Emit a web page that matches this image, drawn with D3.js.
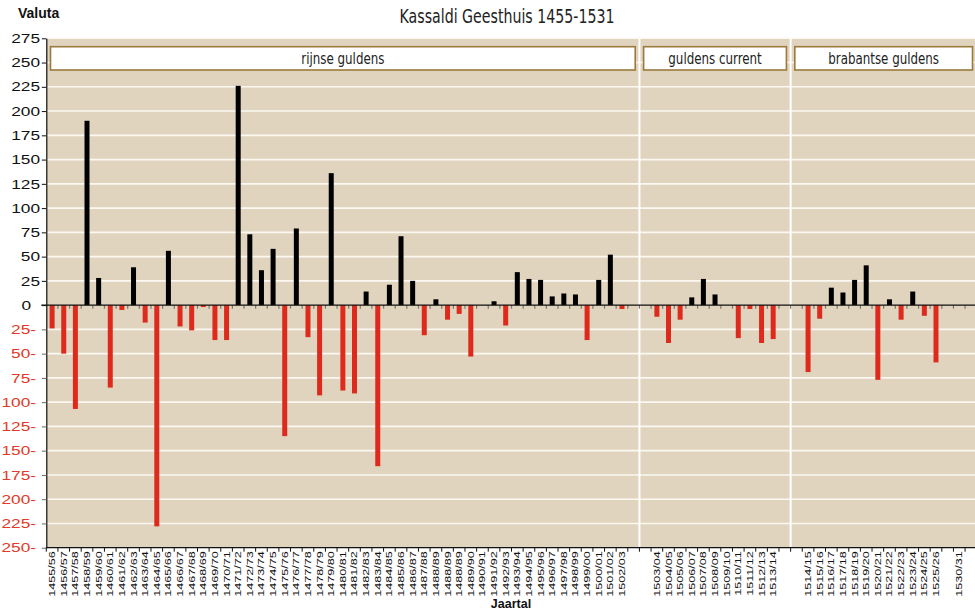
<!DOCTYPE html>
<html lang="nl">
<head>
<meta charset="UTF-8">
<title>Kassaldi Geesthuis 1455-1531</title>
<script src="https://d3js.org/d3.v7.min.js"></script>
<style>
    body { margin: 0; background: #fff; }
    svg { display: block; font-family: "Liberation Sans", Arial, sans-serif; }
    .narrow { font-family: "Liberation Sans Narrow", "Arial Narrow", "DejaVu Sans Condensed", sans-serif; }
</style>
</head>
<body>
<div id="chart"></div>
<script>
// accounting years, "" = empty slot between the currency periods
const years = [
    "1455/56","1456/57","1457/58","1458/59","1459/60","1460/61","1461/62","1462/63","1463/64","1464/65",
    "1465/66","1466/67","1467/68","1468/69","1469/70","1470/71","1471/72","1472/73","1473/74","1474/75",
    "1475/76","1476/77","1477/78","1478/79","1479/80","1480/81","1481/82","1482/83","1483/84","1484/85",
    "1485/86","1486/87","1487/88","1488/89","1488/89","1488/89","1489/90","1490/91","1491/92","1492/93",
    "1493/94","1494/95","1495/96","1496/97","1497/98","1498/99","1499/00","1500/01","1501/02","1502/03",
    "","",
    "1503/04","1504/05","1505/06","1506/07","1507/08","1508/09","1509/10","1510/11","1511/12","1512/13","1513/14",
    "","",
    "1514/15","1515/16","1516/17","1517/18","1518/19","1519/20","1520/21","1521/22","1522/23","1523/24","1524/25","1525/26",
    "","1530/31",""
];

// saldo per year (null = empty slot)
const saldo = [
    -24, -50, -107, 190, 28, -85, -5, 39, -18, -228,
    56, -22, -26, -2, -36, -36, 226, 73, 36, 58,
    -135, 79, -33, -93, 136, -88, -91, 14, -166, 21,
    71, 25, -31, 6, -15, -9, -53, 0, 4, -21,
    34, 27, 26, 9, 12, 11, -36, 26, 52, -4,
    null, null,
    -12, -39, -15, 8, 27, 11, 0, -34, -4, -39, -35,
    null, null,
    -69, -14, 18, 13, 26, 41, -77, 6, -15, 14, -11, -59,
    null, 0, null
];

// currency periods: first slot and slot after the last one
const periods = [
    { name: "rijnse guldens", from: 0, to: 51 },
    { name: "guldens current", from: 51, to: 64 },
    { name: "brabantse guldens", from: 64, to: 80 }
];

const yTicks = d3.range(-250, 276, 25);

const width = 975, height = 610;
const plotLeft = 46.3, plotRight = 976.7, plotTop = 38.3, plotBottom = 547.7;

const svg = d3.select("#chart").append("svg")
    .attr("width", width)
    .attr("height", height);

const x = d3.scaleBand()
    .domain(d3.range(years.length))
    .range([plotLeft, plotRight])
    .paddingInner(0.57)
    .paddingOuter(0.285);

const y = d3.scaleLinear()
    .domain([-250, 275])
    .range([plotBottom, plotTop]);

const step = x.step();
const edge = i => plotLeft + i * step;

// plot background
svg.append("rect")
    .attr("x", plotLeft).attr("y", plotTop)
    .attr("width", plotRight - plotLeft).attr("height", plotBottom - plotTop)
    .attr("fill", "#e0d4be");

// grid lines
svg.append("g")
    .selectAll("line")
    .data(yTicks.filter(d => d !== 0 && d !== -250))
    .join("line")
    .attr("x1", plotLeft).attr("x2", plotRight)
    .attr("y1", d => y(d)).attr("y2", d => y(d))
    .attr("stroke", "#fbf8f2")
    .attr("stroke-width", 1.6);

// period separators
svg.append("g")
    .selectAll("line")
    .data(periods.slice(1))
    .join("line")
    .attr("x1", d => edge(d.from)).attr("x2", d => edge(d.from))
    .attr("y1", plotTop).attr("y2", plotBottom)
    .attr("stroke", "#fff")
    .attr("stroke-width", 2);

// period label boxes
const box = svg.append("g").selectAll("g")
    .data(periods)
    .join("g");

box.append("rect")
    .attr("x", d => edge(d.from) + 4.2)
    .attr("width", d => Math.min(edge(d.to), 978) - edge(d.from) - 8.4)
    .attr("y", 46.7)
    .attr("height", 23.3)
    .attr("fill", "#fff")
    .attr("stroke", "#9a7a3c")
    .attr("stroke-width", 1.6);

box.append("text")
    .attr("class", "narrow")
    .attr("transform", d => `translate(${(edge(d.from) + Math.min(edge(d.to), 978)) / 2},63.5) scale(0.88,1)`)
    .attr("text-anchor", "middle")
    .attr("font-size", 15)
    .attr("fill", "#222")
    .text(d => d.name);

// bars
svg.append("g")
    .selectAll("rect")
    .data(saldo.map((v, i) => ({ i, v })).filter(d => d.v !== null && d.v !== 0))
    .join("rect")
    .attr("x", d => x(d.i))
    .attr("width", x.bandwidth())
    .attr("y", d => y(Math.max(0, d.v)))
    .attr("height", d => Math.abs(y(d.v) - y(0)))
    .attr("fill", d => d.v > 0 ? "#000" : "#de2a1c");

// zero line with small ticks
svg.append("g")
    .selectAll("line")
    .data(d3.range(1, years.length + 1))
    .join("line")
    .attr("x1", d => edge(d)).attr("x2", d => edge(d))
    .attr("y1", y(0)).attr("y2", y(0) + 3.5)
    .attr("stroke", "#7d7468")
    .attr("stroke-width", 1.2);

svg.append("line")
    .attr("x1", plotLeft - 5).attr("x2", plotRight)
    .attr("y1", y(0)).attr("y2", y(0))
    .attr("stroke", "#111")
    .attr("stroke-width", 1.2);

// y axis
const yAxis = svg.append("g")
    .attr("transform", `translate(${plotLeft},0)`)
    .call(d3.axisLeft(y).tickValues(yTicks).tickSize(4.5).tickSizeOuter(0)
        .tickFormat(d => d < 0 ? `${-d}-` : `${d}`));

yAxis.select(".domain").attr("stroke", "#111").attr("stroke-width", 1.2);
yAxis.selectAll(".tick line").attr("stroke", d => d < 0 ? "#6d6a66" : "#111");
yAxis.selectAll(".tick text")
    .attr("x", null)
    .attr("text-anchor", "end")
    .attr("font-size", 13)
    .attr("font-family", "'Liberation Sans', Arial, sans-serif")
    .attr("fill", d => d < 0 ? "#e23a28" : "#111")
    .attr("transform", d => `translate(${d < 0 ? -10.3 : d === 0 ? -15.3 : -6.3},0) scale(1.33,1)`);

// x axis: labels on the slots, ticks on the slot edges
const xAxis = svg.append("g")
    .attr("transform", `translate(0,${plotBottom})`)
    .call(d3.axisBottom(x).tickSize(0).tickFormat(i => years[i]));

xAxis.select(".domain").remove();
xAxis.selectAll(".tick text")
    .attr("y", null).attr("dy", null)
    .attr("text-anchor", "end")
    .attr("font-size", 8.4)
    .attr("font-family", "'Liberation Sans', Arial, sans-serif")
    .attr("fill", "#111")
    .attr("transform", "translate(0,3.6) rotate(-90) scale(1.5,1) translate(0,3)");

svg.append("g")
    .selectAll("line")
    .data(d3.range(years.length + 1))
    .join("line")
    .attr("x1", d => edge(d)).attr("x2", d => edge(d))
    .attr("y1", plotBottom).attr("y2", plotBottom + 4)
    .attr("stroke", "#111");

svg.append("line")
    .attr("x1", plotLeft).attr("x2", plotRight)
    .attr("y1", plotBottom).attr("y2", plotBottom)
    .attr("stroke", "#111")
    .attr("stroke-width", 1.3);

// titles
svg.append("text")
    .attr("class", "narrow")
    .attr("transform", "translate(507,23) scale(0.83,1)")
    .attr("text-anchor", "middle")
    .attr("font-size", 19)
    .attr("fill", "#222")
    .text("Kassaldi Geesthuis 1455-1531");

svg.append("text")
    .attr("x", 18).attr("y", 18)
    .attr("font-size", 14)
    .attr("font-weight", "bold")
    .attr("fill", "#111")
    .text("Valuta");

svg.append("text")
    .attr("x", 511).attr("y", 608)
    .attr("text-anchor", "middle")
    .attr("font-size", 12.5)
    .attr("font-weight", "bold")
    .attr("fill", "#111")
    .text("Jaartal");
</script>
</body>
</html>
